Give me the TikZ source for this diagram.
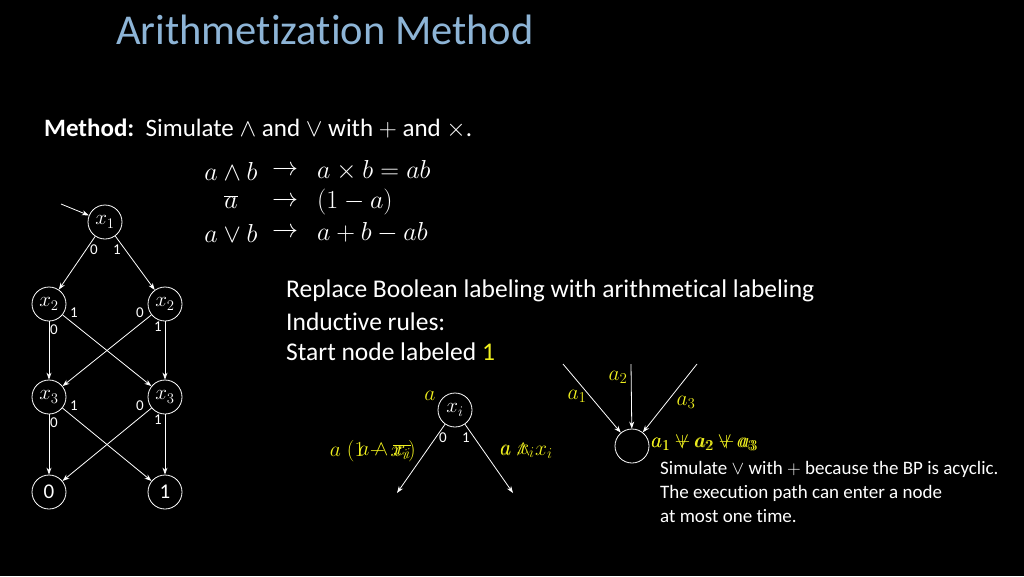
\RequirePackage{fix-cm}
\documentclass[tikz,border=0pt]{standalone}
\usepackage{fontspec}
\setmainfont[Ligatures=NoCommon]{Carlito}
\usetikzlibrary{arrows.meta}
\definecolor{titleblue}{RGB}{141,180,214}
\definecolor{labelyellow}{RGB}{240,240,30}

\begin{document}
\begin{tikzpicture}[x=1pt,y=-1pt,
	bpnode/.style={draw=white,line width=0.8pt,circle,minimum size=34pt,inner sep=0pt,text=white,font=\fontsize{21}{25}\selectfont},
	edge/.style={draw=white,line width=0.8pt,-{Stealth[length=7pt,width=5pt]}},
	bit/.style={text=white,font=\fontsize{15}{18}\selectfont,inner sep=0pt},
	ylab/.style={text=labelyellow,font=\fontsize{21.5}{25}\selectfont,inner sep=0pt},
	formula/.style={text=white,font=\fontsize{26}{30}\selectfont,inner sep=0pt},
	body/.style={text=white,font=\fontsize{25.5}{30}\selectfont,inner sep=0pt,anchor=west},
	note/.style={text=white,font=\fontsize{19}{22}\selectfont,inner sep=0pt,anchor=west}]
			\fill[black] (0,0) rectangle (1024,576);
			\useasboundingbox (0,0) rectangle (1024,576);

			%%title and method
			\node[anchor=west,text=titleblue,font=\fontsize{42.5}{50}\selectfont,inner sep=0pt] (title) at (116,30){Arithmetization Method};
			\node[body,font=\fontsize{25}{30}\selectfont] (method) at (44,129){\textbf{Method:}\ \ Simulate $\wedge$ and $\vee$ with $+$ and $\times$.};

			%%rules
			\node[formula] (andl) at (231,171){$a\wedge b$};
				\node[formula] (andto) at (285,171){$\rightarrow$};
				\node[formula,anchor=west] (andr) at (317,171){$a\times b=ab$};
			\node[formula] (notl) at (231,202){$\overline{a}$};
				\node[formula] (notto) at (285,202){$\rightarrow$};
				\node[formula,anchor=west] (notr) at (317,202){$(1-a)$};
			\node[formula] (orl) at (231,233){$a\vee b$};
				\node[formula] (orto) at (285,233){$\rightarrow$};
				\node[formula,anchor=west] (orr) at (317,233){$a+b-ab$};

			%%draw the BP
			\node[bpnode] (x1) at (105,222){$x_1$};
			\node[bpnode] (x2l) at (49,304){$x_2$};
			\node[bpnode] (x2r) at (165,304){$x_2$};
			\node[bpnode] (x3l) at (49,397){$x_3$};
			\node[bpnode] (x3r) at (165,397){$x_3$};
			\node[bpnode] (zero) at (49,492){0};
			\node[bpnode] (one) at (165,492){1};
			\coordinate (start) at (61,204);

			\draw[edge] (start) -- (x1);
			\draw[edge] (x1) -- (x2l);
			\draw[edge] (x1) -- (x2r);
				\node[bit] (x1z) at (94,250){0};
				\node[bit] (x1o) at (117,250){1};
			\draw[edge] (x2l) -- (x3l);
			\draw[edge] (x2l) -- (x3r);
				\node[bit] (x2lo) at (74,313){1};
				\node[bit] (x2lz) at (54,330){0};
			\draw[edge] (x2r) -- (x3l);
			\draw[edge] (x2r) -- (x3r);
				\node[bit] (x2rz) at (140,313){0};
				\node[bit] (x2ro) at (158,327){1};
			\draw[edge] (x3l) -- (zero);
			\draw[edge] (x3l) -- (one);
				\node[bit] (x3lo) at (74,406){1};
				\node[bit] (x3lz) at (54,423){0};
			\draw[edge] (x3r) -- (zero);
			\draw[edge] (x3r) -- (one);
				\node[bit] (x3rz) at (140,406){0};
				\node[bit] (x3ro) at (158,420){1};

			%%text
			\node[body] (replace) at (286,291){Replace Boolean labeling with arithmetical labeling};
			\node[body] (rules) at (286,322){Inductive rules:};
			\node[body] (startlab) at (286,352){Start node labeled \textcolor{labelyellow}{1}};

			%%one node, two exits
			\node[bpnode] (xi) at (455,410){$x_i$};
			\coordinate (xiout0) at (397,493);
			\coordinate (xiout1) at (513,493);
			\draw[edge] (xi) -- (xiout0);
			\draw[edge] (xi) -- (xiout1);
				\node[ylab] (xia) at (430,396){$a$};
				\node[bit] (xiz) at (443,438){0};
				\node[bit] (xio) at (466,438){1};
				\node[ylab,anchor=east] (xilefta) at (416,451){$a\;(1-x_i)$};
				\node[ylab,anchor=east] (xileftb) at (411,451){$a\wedge\overline{x_i}$};
				\node[ylab,anchor=west] (xirighta) at (500,451){$a\;x_i$};
				\node[ylab,anchor=west] (xirightb) at (500,451){$a\wedge x_i$};

			%%three entries, one node
			\node[bpnode] (sink) at (632,446){};
			\coordinate (in1) at (563,364);
			\coordinate (in2) at (631,364);
			\coordinate (in3) at (697,364);
			\draw[edge] (in1) -- (sink);
			\draw[edge] (in2) -- (sink);
			\draw[edge] (in3) -- (sink);
				\node[ylab] (a1) at (577,396){$a_1$};
				\node[ylab] (a2) at (618,377){$a_2$};
				\node[ylab] (a3) at (686,402){$a_3$};
				\node[ylab,anchor=west] (sumor) at (651,443){$a_1\vee a_2\vee a_3$};
				\node[ylab,anchor=west] (sumplus) at (651,443){$a_1+a_2+a_3$};

			\node[note] (note1) at (660,469){Simulate $\vee$ with $+$ because the BP is acyclic.};
			\node[note] (note2) at (660,493){The execution path can enter a node};
			\node[note] (note3) at (660,516){at most one time.};
		\end{tikzpicture}
\end{document}
